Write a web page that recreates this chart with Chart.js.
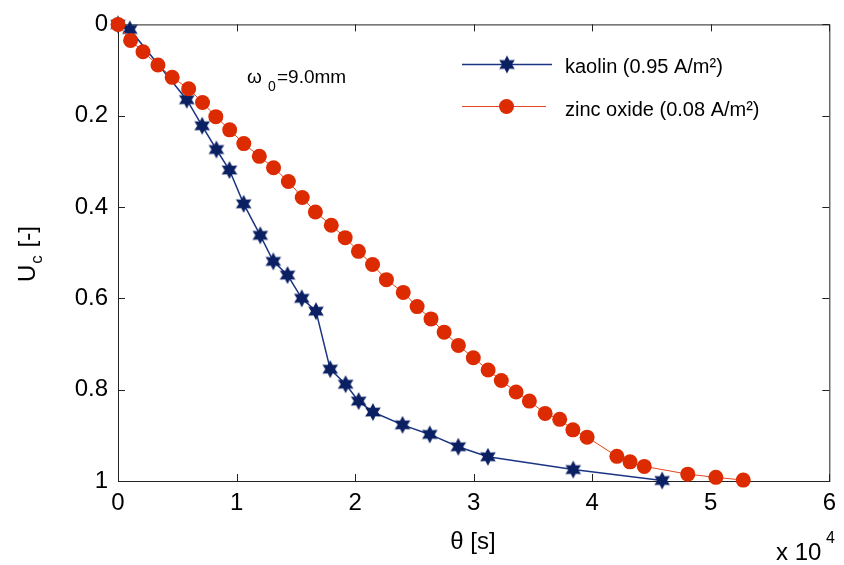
<!DOCTYPE html>
<html>
<head>
<meta charset="utf-8">
<script src="https://cdn.jsdelivr.net/npm/chart.js@4"></script>
<style>
  body { margin: 0; background: #fff; }
  canvas { display: block; }
</style>
</head>
<body>
<canvas id="myChart" width="844" height="565"></canvas>
<script>
// datos (theta en unidades de 10^4 s)
const kaolinTheta = [0, 0.10, 0.58, 0.71, 0.83, 0.94, 1.06, 1.20, 1.31, 1.43, 1.55, 1.67, 1.79, 1.92, 2.03, 2.15, 2.40, 2.63, 2.87, 3.12, 3.84, 4.59];
const kaolinU = [0, 0.011, 0.165, 0.222, 0.274, 0.319, 0.393, 0.462, 0.519, 0.549, 0.600, 0.628, 0.755, 0.788, 0.825, 0.849, 0.877, 0.898, 0.925, 0.947, 0.975, 0.999];

const zincTheta = [0, 0.106, 0.211, 0.337, 0.457, 0.596, 0.713, 0.825, 0.942, 1.061, 1.192, 1.312, 1.437, 1.554, 1.665, 1.799, 1.916, 2.028, 2.147, 2.264, 2.406, 2.523, 2.640, 2.751, 2.871, 2.997, 3.122, 3.233, 3.358, 3.470, 3.603, 3.726, 3.837, 3.957, 4.208, 4.319, 4.439, 4.806, 5.043, 5.274];
const zincU = [0, 0.035, 0.060, 0.089, 0.116, 0.141, 0.171, 0.202, 0.231, 0.261, 0.289, 0.314, 0.344, 0.379, 0.411, 0.440, 0.467, 0.497, 0.526, 0.559, 0.587, 0.618, 0.645, 0.674, 0.703, 0.730, 0.757, 0.780, 0.805, 0.825, 0.852, 0.865, 0.888, 0.904, 0.946, 0.958, 0.968, 0.985, 0.992, 0.998];

const xTicks = [0, 1, 2, 3, 4, 5, 6];
const yTicks = [0, 0.2, 0.4, 0.6, 0.8, 1];

const seriesNames = ["kaolin (0.95 A/m²)", "zinc oxide (0.08 A/m²)"];

// colores
const azulLinea = "#1b3584";
const azulMarca = "#0b1f63";
const rojoLinea = "#e5441c";
const rojoMarca = "#dc2b00";
const fuente = "'Liberation Sans', Arial, sans-serif";

Chart.defaults.font.family = fuente;
Chart.defaults.color = "#000";

// estrella de seis puntas (hexagrama)
function crearEstrella(r, color) {
  const c = document.createElement("canvas");
  const s = Math.ceil(r * 2 + 2);
  c.width = s;
  c.height = s;
  const g = c.getContext("2d");
  g.fillStyle = color;
  g.beginPath();
  for (let i = 0; i < 12; i++) {
    const a = -Math.PI / 2 + (i * Math.PI) / 6;
    const rr = i % 2 === 0 ? r : r * 0.55;
    g.lineTo(s / 2 + rr * Math.cos(a), s / 2 + rr * Math.sin(a));
  }
  g.closePath();
  g.fill();
  return c;
}

const estrella = crearEstrella(9, azulMarca);

function aPuntos(xs, ys) {
  return xs.map((x, i) => ({ x: x, y: ys[i] }));
}

// marco, ticks hacia dentro y textos
const extras = {
  id: "extras",
  beforeDatasetsDraw(chart) {
    const { ctx, chartArea: a, scales } = chart;
    ctx.save();
    ctx.strokeStyle = "#222";
    ctx.lineWidth = 1;
    ctx.strokeRect(a.left + 0.5, a.top + 0.5, a.right - a.left, a.bottom - a.top);
    ctx.beginPath();
    xTicks.forEach((t) => {
      const px = Math.round(scales.x.getPixelForValue(t)) + 0.5;
      ctx.moveTo(px, a.bottom);
      ctx.lineTo(px, a.bottom - 7);
      ctx.moveTo(px, a.top);
      ctx.lineTo(px, a.top + 7);
    });
    yTicks.forEach((t) => {
      const py = Math.round(scales.y.getPixelForValue(t)) + 0.5;
      ctx.moveTo(a.left, py);
      ctx.lineTo(a.left + 7, py);
      ctx.moveTo(a.right, py);
      ctx.lineTo(a.right - 7, py);
    });
    ctx.stroke();
    ctx.restore();
  },
  afterDraw(chart) {
    const ctx = chart.ctx;
    ctx.save();
    ctx.fillStyle = "#000";
    ctx.textBaseline = "alphabetic";

    // leyenda
    ctx.font = "20px " + fuente;
    ctx.lineWidth = 1.5;
    ctx.strokeStyle = azulLinea;
    ctx.beginPath();
    ctx.moveTo(462, 64.5);
    ctx.lineTo(552, 64.5);
    ctx.stroke();
    ctx.drawImage(estrella, 507 - estrella.width / 2, 64.5 - estrella.height / 2);
    ctx.fillText(seriesNames[0], 565, 73);

    ctx.lineWidth = 1;
    ctx.strokeStyle = rojoLinea;
    ctx.beginPath();
    ctx.moveTo(462, 106.5);
    ctx.lineTo(546, 106.5);
    ctx.stroke();
    ctx.fillStyle = rojoMarca;
    ctx.beginPath();
    ctx.arc(506.5, 106.5, 7.5, 0, Math.PI * 2);
    ctx.fill();
    ctx.fillStyle = "#000";
    ctx.fillText(seriesNames[1], 565, 116);

    // anotacion omega_0
    ctx.font = "19px " + fuente;
    ctx.fillText("ω", 247, 83);
    ctx.font = "14px " + fuente;
    ctx.fillText("0", 268, 91);
    ctx.font = "19px " + fuente;
    ctx.fillText("=9.0mm", 277, 83);

    // titulo eje x
    ctx.font = "24px " + fuente;
    ctx.textAlign = "center";
    ctx.fillText("θ [s]", 473, 549);

    // factor de escala
    ctx.textAlign = "left";
    ctx.fillText("x 10", 776, 560);
    ctx.font = "16px " + fuente;
    ctx.fillText("4", 826, 543);

    // titulo eje y
    ctx.translate(35, 282);
    ctx.rotate(-Math.PI / 2);
    ctx.font = "24px " + fuente;
    ctx.fillText("U", 0, 0);
    const wU = ctx.measureText("U").width;
    ctx.font = "17px " + fuente;
    ctx.fillText("c", wU + 1, 7);
    const wc = ctx.measureText("c").width;
    ctx.font = "24px " + fuente;
    ctx.fillText(" [-]", wU + wc + 2, 0);
    ctx.restore();
  },
};

const chartDom = document.getElementById("myChart");

const config = {
  type: "line",
  data: {
    datasets: [
      {
        label: seriesNames[0],
        data: aPuntos(kaolinTheta, kaolinU),
        borderColor: azulLinea,
        borderWidth: 1.5,
        pointStyle: estrella,
        pointRadius: 9,
        clip: false,
        order: 1,
      },
      {
        label: seriesNames[1],
        data: aPuntos(zincTheta, zincU),
        borderColor: rojoLinea,
        backgroundColor: rojoMarca,
        borderWidth: 1,
        pointStyle: "circle",
        pointRadius: 7.5,
        pointBorderWidth: 0,
        pointBackgroundColor: rojoMarca,
        clip: false,
        order: 0,
      },
    ],
  },
  options: {
    responsive: false,
    animation: false,
    layout: { padding: { top: 18, right: 7, left: 0, bottom: 0 } },
    plugins: {
      legend: { display: false },
      tooltip: { enabled: false },
    },
    scales: {
      x: {
        type: "linear",
        min: 0,
        max: 6,
        afterBuildTicks: (scale) => {
          scale.ticks = xTicks.map((v) => ({ value: v }));
        },
        afterFit: (scale) => {
          scale.height = 84;
        },
        grid: { drawOnChartArea: false, drawTicks: false },
        border: { color: "#222" },
        ticks: { font: { size: 24 }, padding: 8, color: "#000", callback: (v) => String(v) },
      },
      y: {
        type: "linear",
        reverse: true,
        min: 0,
        max: 1,
        afterBuildTicks: (scale) => {
          scale.ticks = yTicks.map((v) => ({ value: v }));
        },
        afterFit: (scale) => {
          scale.width = 118;
        },
        grid: { drawOnChartArea: false, drawTicks: false },
        border: { color: "#222" },
        ticks: { font: { size: 24 }, padding: 10, color: "#000", callback: (v) => String(v) },
      },
    },
  },
  plugins: [extras],
};

const myChart = new Chart(chartDom, config);
</script>
</body>
</html>
